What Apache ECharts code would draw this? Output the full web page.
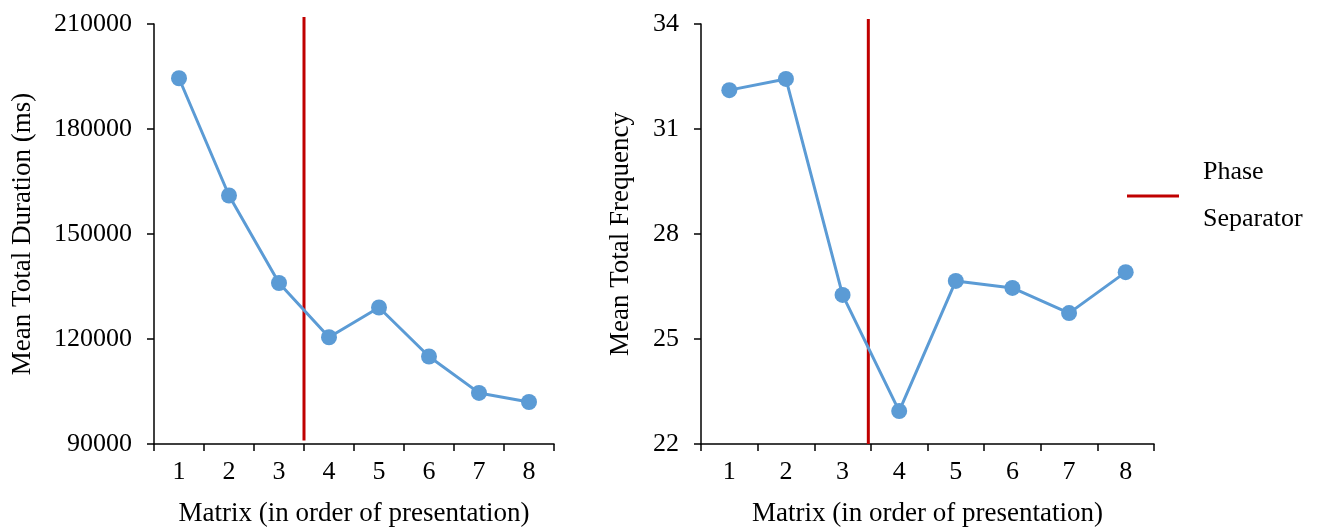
<!DOCTYPE html>
<html>
<head>
<meta charset="utf-8">
<script src="https://cdn.jsdelivr.net/npm/echarts@6/dist/echarts.min.js"></script>
<style>
  html, body { margin: 0; padding: 0; background: #fff; }
  #chart { width: 1323px; height: 528px; }
</style>
</head>
<body>
<div id="chart"></div>
<script>
// Matrix order (x categories)
const matrices = ['1', '2', '3', '4', '5', '6', '7', '8'];

// Mean total duration per matrix (ms)
const durationMeans = [194500, 161000, 136000, 120500, 129000, 115000, 104600, 102000];

// Mean total frequency per matrix
const frequencyMeans = [32.11, 32.43, 26.26, 22.94, 26.66, 26.46, 25.74, 26.91];

// Y-axis tick values
const durationTicks = [90000, 120000, 150000, 180000, 210000];
const frequencyTicks = [22, 25, 28, 31, 34];

// Phase separator: position on the matrix axis and vertical span in data units
const durationSeparatorX = 3.5;
const durationSeparatorSpan = [91000, 212000];
const frequencySeparatorX = 3.455;
const frequencySeparatorSpan = [22.0, 34.14];

const FONT = '"Liberation Serif", "Times New Roman", serif';
const BLUE = '#5B9BD5';
const RED = '#C00000';
const TICK_FONT = 26;
const NAME_FONT = 27;

const axisLine = { show: true, lineStyle: { color: '#000', width: 1.5 } };
const axisTick = { show: true, inside: false, length: 7, lineStyle: { color: '#000', width: 1.5 } };

function categoryAxis(gridIndex) {
  return {
    type: 'category',
    gridIndex,
    data: matrices,
    boundaryGap: true,
    axisLine,
    axisTick: Object.assign({ alignWithLabel: false }, axisTick),
    axisLabel: { color: '#000', fontFamily: FONT, fontSize: TICK_FONT, margin: 15 },
    name: 'Matrix (in order of presentation)',
    nameLocation: 'middle',
    nameGap: 56,
    nameTextStyle: { color: '#000', fontFamily: FONT, fontSize: NAME_FONT },
    splitLine: { show: false }
  };
}

function hiddenValueXAxis(gridIndex) {
  return {
    type: 'value',
    gridIndex,
    min: 0.5,
    max: matrices.length + 0.5,
    show: false
  };
}

const plainNumber = v => String(v);

const chart = echarts.init(document.getElementById('chart'), null, { renderer: 'canvas' });

chart.setOption({
  animation: false,
  backgroundColor: '#fff',
  textStyle: { fontFamily: FONT },
  grid: [
    { left: 154, top: 24, width: 400, height: 420, containLabel: false, outerBoundsMode: 'none' },
    { left: 701, top: 24, width: 453, height: 420, containLabel: false, outerBoundsMode: 'none' }
  ],
  legend: {
    data: ['Phase Separator'],
    left: 1127,
    top: 149,
    padding: 0,
    icon: 'rect',
    itemWidth: 52,
    itemHeight: 3,
    formatter: () => 'Phase\nSeparator',
    textStyle: {
      color: '#000',
      fontFamily: FONT,
      fontSize: TICK_FONT,
      lineHeight: 47,
      padding: [0, 0, 0, 19]
    },
    selectedMode: false
  },
  xAxis: [
    categoryAxis(0),
    categoryAxis(1),
    hiddenValueXAxis(0),
    hiddenValueXAxis(1)
  ],
  yAxis: [
    {
      type: 'value',
      gridIndex: 0,
      min: durationTicks[0],
      max: durationTicks[durationTicks.length - 1],
      interval: durationTicks[1] - durationTicks[0],
      axisLine,
      axisTick,
      axisLabel: { color: '#000', fontFamily: FONT, fontSize: TICK_FONT, margin: 22, formatter: plainNumber },
      splitLine: { show: false },
      name: 'Mean Total Duration (ms)',
      nameLocation: 'middle',
      nameGap: 118,
      nameTextStyle: { color: '#000', fontFamily: FONT, fontSize: NAME_FONT }
    },
    {
      type: 'value',
      gridIndex: 1,
      min: frequencyTicks[0],
      max: frequencyTicks[frequencyTicks.length - 1],
      axisLine,
      axisTick: Object.assign({ customValues: frequencyTicks }, axisTick),
      axisLabel: { color: '#000', fontFamily: FONT, fontSize: TICK_FONT, margin: 22, customValues: frequencyTicks, formatter: plainNumber },
      splitLine: { show: false },
      name: 'Mean Total Frequency',
      nameLocation: 'middle',
      nameGap: 67,
      nameTextStyle: { color: '#000', fontFamily: FONT, fontSize: NAME_FONT }
    }
  ],
  series: [
    {
      name: 'Phase Separator',
      type: 'line',
      xAxisIndex: 2,
      yAxisIndex: 0,
      clip: false,
      symbol: 'none',
      color: RED,
      lineStyle: { color: RED, width: 3 },
      data: durationSeparatorSpan.map(v => [durationSeparatorX, v]),
      z: 1
    },
    {
      name: 'Mean Total Duration',
      type: 'line',
      xAxisIndex: 0,
      yAxisIndex: 0,
      symbol: 'circle',
      symbolSize: 16,
      color: BLUE,
      lineStyle: { color: BLUE, width: 3 },
      itemStyle: { color: BLUE },
      data: durationMeans,
      z: 3
    },
    {
      name: 'Phase Separator',
      type: 'line',
      xAxisIndex: 3,
      yAxisIndex: 1,
      clip: false,
      symbol: 'none',
      color: RED,
      lineStyle: { color: RED, width: 3 },
      data: frequencySeparatorSpan.map(v => [frequencySeparatorX, v]),
      z: 1
    },
    {
      name: 'Mean Total Frequency',
      type: 'line',
      xAxisIndex: 1,
      yAxisIndex: 1,
      symbol: 'circle',
      symbolSize: 16,
      color: BLUE,
      lineStyle: { color: BLUE, width: 3 },
      itemStyle: { color: BLUE },
      data: frequencyMeans,
      z: 3
    }
  ]
});
</script>
</body>
</html>
